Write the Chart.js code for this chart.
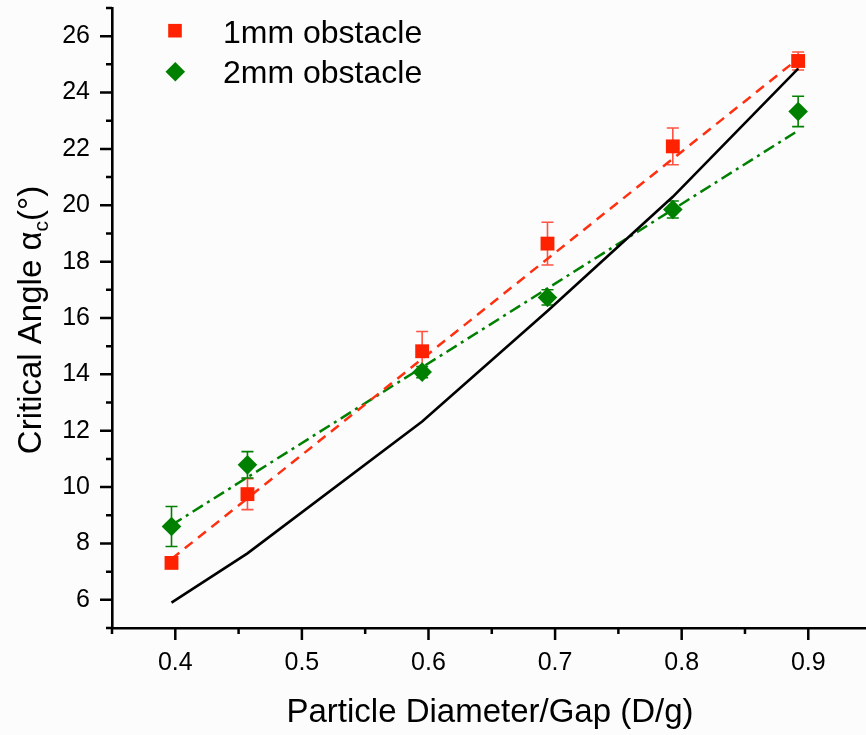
<!DOCTYPE html>
<html>
<head>
<meta charset="utf-8">
<title>Critical angle vs particle diameter/gap</title>
<script src="https://cdn.jsdelivr.net/npm/chart.js@4.4.1/dist/chart.umd.min.js"></script>
<style>
  html, body { margin: 0; padding: 0; background: #fcfcfc; }
  #wrap { width: 866px; height: 735px; position: relative; }
</style>
</head>
<body>
<div id="wrap"><canvas id="chart"></canvas></div>
<script>
// ── Data ─────────────────────────────────────────────────────────
const xValues       = [0.397, 0.457, 0.595, 0.694, 0.793, 0.892];
const obstacle1mm    = [7.31, 9.75, 14.82, 18.64, 22.09, 25.12];
const obstacle1mmErr = [0.15, 0.55, 0.70, 0.76, 0.65, 0.32];
const obstacle2mm    = [8.60, 10.79, 14.08, 16.73, 19.85, 23.33];
const obstacle2mmErr = [0.71, 0.47, 0.20, 0.27, 0.30, 0.54];
const theory         = [5.90, 7.65, 12.33, 16.25, 20.30, 24.85];

const fitX   = [0.397, 0.892];
const fit1mm = [7.45, 25.20];
const fit2mm = [8.65, 22.65];

const xMajorTicks = [0.4, 0.5, 0.6, 0.7, 0.8, 0.9];
const yMajorTicks = [6, 8, 10, 12, 14, 16, 18, 20, 22, 24, 26];
const legendLabels = ['1mm obstacle', '2mm obstacle'];

const RED   = '#ff2200';
const GREEN = '#008000';
const FONT  = '"Liberation Sans", Arial, sans-serif';

function pts(xs, ys) {
    return xs.map((x, i) => ({ x: x, y: ys[i] }));
}

// ── Plugins ─────────────────────────────────────────────────────
const bgPlugin = {
    id: 'bg',
    beforeDraw(chart) {
        const c = chart.ctx;
        c.save();
        c.fillStyle = '#fcfcfc';
        c.fillRect(0, 0, chart.width, chart.height);
        c.restore();
    }
};

const errorBars = {
    id: 'errorBars',
    beforeDatasetsDraw(chart) {
        const c = chart.ctx;
        const xs = chart.scales.x, ys = chart.scales.y;
        const sets = [
            { y: obstacle1mm, e: obstacle1mmErr, color: 'rgba(255,40,20,0.8)' },
            { y: obstacle2mm, e: obstacle2mmErr, color: GREEN },
        ];
        c.save();
        c.lineWidth = 1.6;
        sets.forEach(s => {
            c.strokeStyle = s.color;
            xValues.forEach((xv, i) => {
                const px  = xs.getPixelForValue(xv);
                const top = ys.getPixelForValue(s.y[i] + s.e[i]);
                const bot = ys.getPixelForValue(s.y[i] - s.e[i]);
                c.beginPath();
                c.moveTo(px, top); c.lineTo(px, bot);
                c.moveTo(px - 6, top); c.lineTo(px + 6, top);
                c.moveTo(px - 6, bot); c.lineTo(px + 6, bot);
                c.stroke();
            });
        });
        c.restore();
    }
};

// outward major + minor tick marks, titles, legend
const decor = {
    id: 'decor',
    afterDraw(chart) {
        const c = chart.ctx;
        const xs = chart.scales.x, ys = chart.scales.y;
        const area = chart.chartArea;
        c.save();
        c.strokeStyle = '#000';
        c.lineWidth = 2.5;
        c.beginPath();
        // x ticks
        const xStep = xMajorTicks[1] - xMajorTicks[0];
        xMajorTicks.forEach(v => {
            const p = xs.getPixelForValue(v);
            c.moveTo(p, area.bottom); c.lineTo(p, area.bottom + 12);
        });
        [xMajorTicks[0] - xStep / 2].concat(xMajorTicks.map(v => v + xStep / 2)).forEach(v => {
            const p = xs.getPixelForValue(v);
            if (p > area.right + 1) return;
            c.moveTo(p, area.bottom); c.lineTo(p, area.bottom + 6);
        });
        // y ticks
        const yStep = yMajorTicks[1] - yMajorTicks[0];
        yMajorTicks.forEach(v => {
            const p = ys.getPixelForValue(v);
            c.moveTo(area.left, p); c.lineTo(area.left - 12, p);
        });
        [yMajorTicks[0] - yStep / 2].concat(yMajorTicks.map(v => v + yStep / 2)).forEach(v => {
            const p = ys.getPixelForValue(v);
            c.moveTo(area.left, p); c.lineTo(area.left - 6, p);
        });
        c.stroke();

        // x title
        c.fillStyle = '#000';
        c.font = '33px ' + FONT;
        c.textAlign = 'center';
        c.textBaseline = 'alphabetic';
        c.fillText('Particle Diameter/Gap (D/g)', 490, 722);

        // y title with subscript
        const big = '33px ' + FONT, small = '21px ' + FONT;
        const parts = [
            { t: 'Critical Angle ', f: big, dy: 0 },
            { t: 'α', f: big, dy: 0 },
            { t: 'c', f: small, dy: 7 },
            { t: '(°)', f: big, dy: 0 },
        ];
        let total = 0;
        parts.forEach(p => { c.font = p.f; p.w = c.measureText(p.t).width; total += p.w; });
        c.translate(41, 320);
        c.rotate(-Math.PI / 2);
        c.textAlign = 'left';
        let xx = -total / 2;
        parts.forEach(p => {
            c.font = p.f;
            c.fillText(p.t, xx, p.dy);
            xx += p.w;
        });
        c.restore();

        // legend
        c.save();
        c.fillStyle = RED;
        c.fillRect(175 - 6.8, 30.7 - 6.8, 13.6, 13.6);
        c.fillStyle = GREEN;
        c.beginPath();
        c.moveTo(175.3 - 9.8, 71.7); c.lineTo(175.3, 71.7 - 9.8);
        c.lineTo(175.3 + 9.8, 71.7); c.lineTo(175.3, 71.7 + 9.8);
        c.closePath(); c.fill();
        c.fillStyle = '#000';
        c.font = '32px ' + FONT;
        c.textAlign = 'left';
        c.textBaseline = 'alphabetic';
        c.fillText(legendLabels[0], 223, 42.5);
        c.fillText(legendLabels[1], 223, 82.5);
        c.restore();
    }
};

// ── Chart ───────────────────────────────────────────────────────
new Chart(document.getElementById('chart'), {
    type: 'scatter',
    data: {
        datasets: [
            {
                label: legendLabels[0],
                data: pts(xValues, obstacle1mm),
                pointStyle: 'rect',
                pointRadius: 9.8,
                pointBorderWidth: 0,
                backgroundColor: RED,
                borderColor: RED,
                showLine: false,
                order: 0,
            },
            {
                label: legendLabels[1],
                data: pts(xValues, obstacle2mm),
                pointStyle: 'rectRot',
                pointRadius: 9.8,
                pointBorderWidth: 0,
                backgroundColor: GREEN,
                borderColor: GREEN,
                showLine: false,
                order: 0,
            },
            {
                label: 'theory',
                data: pts(xValues, theory),
                showLine: true,
                borderColor: '#000',
                borderWidth: 2.6,
                pointRadius: 0,
                order: 1,
            },
            {
                label: 'fit 1mm',
                data: pts(fitX, fit1mm),
                showLine: true,
                borderColor: '#ff3010',
                borderWidth: 2.5,
                borderDash: [10, 7],
                pointRadius: 0,
                order: 1,
            },
            {
                label: 'fit 2mm',
                data: pts(fitX, fit2mm),
                showLine: true,
                borderColor: GREEN,
                borderWidth: 2.5,
                borderDash: [12, 5, 3, 5],
                pointRadius: 0,
                order: 1,
            },
        ],
    },
    options: {
        responsive: true,
        maintainAspectRatio: false,
        animation: false,
        events: [],
        layout: { autoPadding: false, padding: { top: 8, right: 0, left: 0, bottom: 0 } },
        plugins: {
            legend: { display: false },
            tooltip: { enabled: false },
        },
        scales: {
            x: {
                type: 'linear',
                min: 0.35,
                max: 0.9456,
                grid: { display: false, drawTicks: false },
                border: { display: true, color: '#000', width: 2.6 },
                afterBuildTicks: s => { s.ticks = xMajorTicks.map(v => ({ value: v })); },
                afterFit: s => { s.height = 107; s.paddingLeft = 0; s.paddingRight = 0; },
                ticks: {
                    color: '#000',
                    font: { family: FONT, size: 25 },
                    padding: 20,
                    maxRotation: 0,
                    callback: v => Number(v).toFixed(1),
                },
            },
            y: {
                type: 'linear',
                min: 5,
                max: 27,
                grid: { display: false, drawTicks: false },
                border: { display: true, color: '#000', width: 2.6 },
                afterBuildTicks: s => { s.ticks = yMajorTicks.map(v => ({ value: v })); },
                afterFit: s => { s.width = 112; s.paddingTop = 0; s.paddingBottom = 0; },
                ticks: {
                    color: '#000',
                    font: { family: FONT, size: 25 },
                    padding: 22,
                    callback: v => String(v),
                },
            },
        },
    },
    plugins: [bgPlugin, errorBars, decor],
});
</script>
</body>
</html>
